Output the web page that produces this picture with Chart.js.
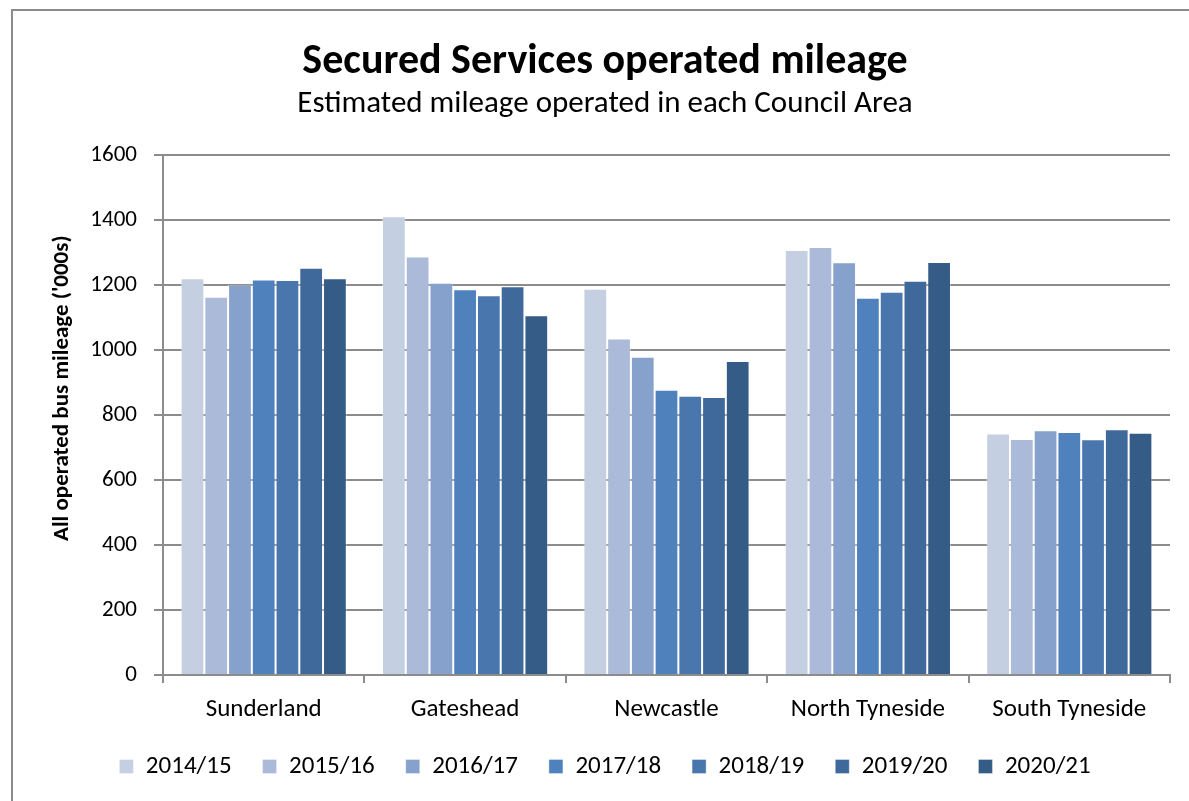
<!DOCTYPE html>
<html>
<head>
<meta charset="utf-8">
<script src="https://cdn.jsdelivr.net/npm/chart.js@4.4.0/dist/chart.umd.min.js"></script>
<style>
  html, body { margin:0; padding:0; background:#fff; }
  #frame { position:absolute; left:11px; top:9px; width:1180px; height:796px; border:2px solid #8c8c8c; box-sizing:border-box; }
  #wrap { position:absolute; left:0; top:0; width:1189px; height:801px; }
</style>
</head>
<body>
<div id="frame"></div>
<div id="wrap"><canvas id="c" width="1189" height="801"></canvas></div>
<script>
const categories = ["Sunderland", "Gateshead", "Newcastle", "North Tyneside", "South Tyneside"];
const seriesNames = ["2014/15", "2015/16", "2016/17", "2017/18", "2018/19", "2019/20", "2020/21"];
const y2014_15 = [1222, 1413, 1189, 1309, 744];
const y2015_16 = [1165, 1289, 1036, 1318, 727];
const y2016_17 = [1202, 1208, 980, 1271, 754];
const y2017_18 = [1218, 1188, 878, 1162, 748];
const y2018_19 = [1216, 1169, 860, 1180, 726];
const y2019_20 = [1254, 1197, 856, 1214, 757];
const y2020_21 = [1222, 1108, 967, 1272, 746];
const yTicks = [0, 200, 400, 600, 800, 1000, 1200, 1400, 1600];
const yAxisTitle = "All operated bus mileage ('000s)";
const colors = ["#C5CFE2", "#AABAD8", "#86A1CB", "#4F81BD", "#4976AD", "#3F699B", "#355B87"];

const allSeries = [y2014_15, y2015_16, y2016_17, y2017_18, y2018_19, y2019_20, y2020_21];
const FONT = "Carlito, Lato, 'Open Sans', sans-serif";

const yTitlePlugin = {
  id: 'yTitle',
  afterDraw(chart) {
    const ctx = chart.ctx;
    const area = chart.chartArea;
    ctx.save();
    ctx.translate(62, (area.top + area.bottom) / 2 - 27);
    ctx.rotate(-Math.PI / 2);
    ctx.font = "bold 23px " + FONT;
    ctx.fillStyle = '#000';
    ctx.textAlign = 'center';
    ctx.textBaseline = 'middle';
    ctx.fillText(yAxisTitle, 0, 0);
    ctx.restore();
  }
};

new Chart(document.getElementById('c'), {
  type: 'bar',
  data: {
    labels: categories,
    datasets: allSeries.map((d, i) => ({
      label: seriesNames[i],
      data: d,
      backgroundColor: colors[i],
      borderColor: 'rgba(255,255,255,0.35)',
      borderWidth: 1,
      categoryPercentage: 0.825,
      barPercentage: 1.0
    }))
  },
  plugins: [yTitlePlugin],
  options: {
    responsive: false,
    animation: false,
    devicePixelRatio: 1,
    layout: { padding: { left: 40, right: 19, top: 39, bottom: 12 } },
    plugins: {
      title: {
        display: true,
        text: 'Secured Services operated mileage',
        color: '#000',
        font: { family: FONT, size: 42, weight: 'bold', lineHeight: 1.1 },
        padding: { top: 0, bottom: 0 }
      },
      subtitle: {
        display: true,
        text: 'Estimated mileage operated in each Council Area',
        color: '#000',
        font: { family: FONT, size: 31, lineHeight: 1.2 },
        padding: { top: 0, bottom: 33 }
      },
      legend: {
        position: 'bottom',
        labels: {
          color: '#000',
          font: { family: FONT, size: 25 },
          boxWidth: 14,
          boxHeight: 14,
          padding: 31
        }
      },
      tooltip: { enabled: false }
    },
    scales: {
      x: {
        offset: true,
        grid: { display: true, drawOnChartArea: false, offset: true, color: '#8c8c8c', lineWidth: 2, tickLength: 8 },
        border: { display: true, color: '#8c8c8c', width: 2 },
        ticks: { color: '#000', font: { family: FONT, size: 25 }, padding: 12 },
        afterFit: (s) => { s.height = 48; }
      },
      y: {
        min: 0, max: 1600,
        afterBuildTicks: (s) => { s.ticks = yTicks.map(v => ({ value: v })); },
        grid: { color: '#8c8c8c', lineWidth: 2, tickLength: 9 },
        border: { display: true, color: '#8c8c8c', width: 2 },
        ticks: { color: '#000', font: { family: FONT, size: 23 }, padding: 17, callback: (v) => String(v) },
        afterFit: (s) => { s.width = 123; }
      }
    }
  }
});
</script>
</body>
</html>
